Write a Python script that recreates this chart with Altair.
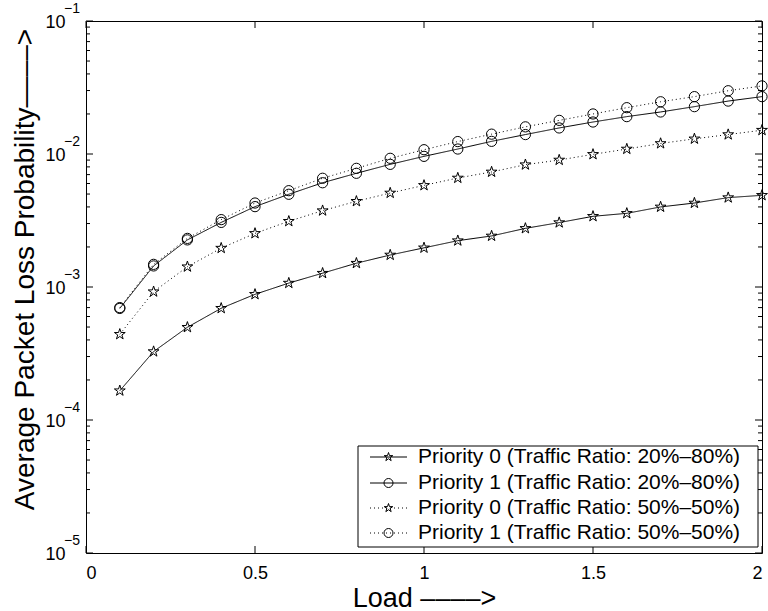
import math
import altair as alt
import pandas as pd

FONT = "Liberation Sans"

load = [0.1, 0.2, 0.3, 0.4, 0.5, 0.6, 0.7, 0.8, 0.9, 1.0,
        1.1, 1.2, 1.3, 1.4, 1.5, 1.6, 1.7, 1.8, 1.9, 2.0]

series_names = [
    "Priority 0 (Traffic Ratio: 20%\u201380%)",
    "Priority 1 (Traffic Ratio: 20%\u201380%)",
    "Priority 0 (Traffic Ratio: 50%\u201350%)",
    "Priority 1 (Traffic Ratio: 50%\u201350%)",
]

p0_2080 = [1.66e-4, 3.27e-4, 4.98e-4, 6.92e-4, 8.81e-4, 1.07e-3, 1.27e-3, 1.51e-3, 1.74e-3, 1.97e-3,
           2.23e-3, 2.42e-3, 2.76e-3, 3.05e-3, 3.40e-3, 3.58e-3, 4.00e-3, 4.28e-3, 4.70e-3, 4.89e-3]
p1_2080 = [6.9e-4, 1.44e-3, 2.26e-3, 3.06e-3, 4.02e-3, 4.98e-3, 6.08e-3, 7.16e-3, 8.36e-3, 9.6e-3,
           1.09e-2, 1.245e-2, 1.40e-2, 1.57e-2, 1.74e-2, 1.91e-2, 2.07e-2, 2.27e-2, 2.50e-2, 2.70e-2]
p0_5050 = [4.41e-4, 9.22e-4, 1.42e-3, 1.96e-3, 2.53e-3, 3.12e-3, 3.75e-3, 4.41e-3, 5.09e-3, 5.81e-3,
           6.6e-3, 7.33e-3, 8.31e-3, 9.01e-3, 9.94e-3, 1.09e-2, 1.20e-2, 1.30e-2, 1.40e-2, 1.51e-2]
p1_5050 = [7.0e-4, 1.48e-3, 2.32e-3, 3.21e-3, 4.28e-3, 5.3e-3, 6.57e-3, 7.8e-3, 9.28e-3, 1.077e-2,
           1.24e-2, 1.41e-2, 1.60e-2, 1.79e-2, 2.0e-2, 2.23e-2, 2.47e-2, 2.70e-2, 2.99e-2, 3.25e-2]

x_ticks = [0, 0.5, 1, 1.5, 2]
y_major = [1e-5, 1e-4, 1e-3, 1e-2, 1e-1]
y_exp_labels = ["\u22125", "\u22124", "\u22123", "\u22122", "\u22121"]
y_minor = [m * d for d in [1e-5, 1e-4, 1e-3, 1e-2] for m in range(2, 10)]

rows = []
for name, vals in zip(series_names, [p0_2080, p1_2080, p0_5050, p1_5050]):
    for xv, v in zip(load, vals):
        rows.append({"load": xv, "prob": v, "series": name})
df = pd.DataFrame(rows)

W, H = 676, 532
xscale = alt.Scale(domain=[0, 2], nice=False, zero=False)
yscale = alt.Scale(type="log", domain=[1e-5, 1e-1], nice=False)


def star_path(r):
    pts = []
    for i in range(10):
        a = math.radians(-90 + 36 * i)
        rr = r if i % 2 == 0 else r * 0.382
        pts.append(f"{rr * math.cos(a):.4f},{rr * math.sin(a):.4f}")
    return "M" + "L".join(pts) + "Z"


STAR = star_path(1.0)

x_axis = alt.Axis(
    values=x_ticks, format="~g", domain=False, ticks=False, grid=False,
    labelFontSize=18, labelFont=FONT, labelColor="black", labelPadding=11,
    title="Load \u2013\u2013\u2013\u2013>", titleFontSize=27, titleFont=FONT,
    titleFontWeight="normal", titleColor="black", titleX=338, titleY=53,
    titleBaseline="alphabetic",
)
y_axis = alt.Axis(
    values=y_major, labelExpr="'10'", domain=False, ticks=False, grid=False,
    labelFontSize=18, labelFont=FONT, labelColor="black", labelPadding=21, labelOffset=1.5,
    title="Average Packet Loss Probability\u2013\u2013\u2013\u2013>", titleFontSize=28,
    titleFont=FONT, titleFontWeight="normal", titleColor="black",
    titleAngle=270, titleX=-53, titleY=248, titleBaseline="alphabetic",
)

X = lambda f: alt.X(f, scale=xscale, axis=x_axis)
Y = lambda f: alt.Y(f, scale=yscale, axis=y_axis)

lines = alt.Chart(df).mark_line(strokeWidth=1, color="black").encode(
    x=X("load:Q"), y=Y("prob:Q"),
    detail="series:N",
    strokeDash=alt.StrokeDash("series:N", sort=series_names,
                              scale=alt.Scale(domain=series_names,
                                              range=[[1, 0], [1, 0], [1, 3], [1, 3]]),
                              legend=None),
)

stars = alt.Chart(df).transform_filter(
    alt.FieldOneOfPredicate(field="series", oneOf=[series_names[0], series_names[2]])
).mark_point(shape=STAR, size=130, filled=False, color="black",
             strokeWidth=1, opacity=1).encode(x=X("load:Q"), y=Y("prob:Q"))

circles = alt.Chart(df).transform_filter(
    alt.FieldOneOfPredicate(field="series", oneOf=[series_names[1], series_names[3]])
).mark_point(shape="circle", size=105, filled=False, color="black",
             strokeWidth=1, opacity=1).encode(x=X("load:Q"), y=Y("prob:Q"))

xt = pd.DataFrame({"t": x_ticks})
ymaj = pd.DataFrame({"v": y_major, "e": y_exp_labels})
ymin = pd.DataFrame({"v": y_minor})

tick_style = dict(color="black", strokeWidth=1)
x_bottom = alt.Chart(xt).mark_rule(**tick_style).encode(
    x=X("t:Q"), y=alt.value(H), y2=alt.value(H - 7))
x_top = alt.Chart(xt).mark_rule(**tick_style).encode(
    x=X("t:Q"), y=alt.value(0), y2=alt.value(7))
y_left_maj = alt.Chart(ymaj).mark_rule(**tick_style).encode(
    y=Y("v:Q"), x=alt.value(0), x2=alt.value(7))
y_right_maj = alt.Chart(ymaj).mark_rule(**tick_style).encode(
    y=Y("v:Q"), x=alt.value(W), x2=alt.value(W - 7))
y_left_min = alt.Chart(ymin).mark_rule(**tick_style).encode(
    y=Y("v:Q"), x=alt.value(0), x2=alt.value(4))
y_right_min = alt.Chart(ymin).mark_rule(**tick_style).encode(
    y=Y("v:Q"), x=alt.value(W), x2=alt.value(W - 4))

exps = alt.Chart(ymaj).mark_text(align="right", baseline="alphabetic", dy=-8,
                                 fontSize=14, font=FONT, color="black").encode(
    y=Y("v:Q"), x=alt.value(-6), text="e:N")

# ---- legend box (drawn as guide-like marks in pixel space) ----
LEG_BOX = (272, 672, 425, 526)          # x0, x1, y0, y1 in plot pixels
LEG_ROW_Y = [436, 462, 487, 512]
LEG_LINE_X = (284, 321)
LEG_MARK_X = 302.5
LEG_TEXT_X = 332
leg_dash = [[1, 0], [1, 0], [1, 3], [1, 3]]
leg_shape = [STAR, "circle", STAR, "circle"]

legend_layers = [
    alt.Chart(pd.DataFrame({"k": [0]})).mark_rect(
        fill="white", stroke="black", strokeWidth=1).encode(
        x=alt.value(LEG_BOX[0]), x2=alt.value(LEG_BOX[1]),
        y=alt.value(LEG_BOX[2]), y2=alt.value(LEG_BOX[3]))
]
for i, name in enumerate(series_names):
    one = pd.DataFrame({"name": [name]})
    legend_layers.append(
        alt.Chart(one).mark_rule(color="black", strokeWidth=1,
                                 strokeDash=leg_dash[i]).encode(
            x=alt.value(LEG_LINE_X[0]), x2=alt.value(LEG_LINE_X[1]),
            y=alt.value(LEG_ROW_Y[i]))
    )
    legend_layers.append(
        alt.Chart(one).mark_point(shape=leg_shape[i], size=81, filled=False,
                                  color="black", strokeWidth=1, opacity=1).encode(
            x=alt.value(LEG_MARK_X), y=alt.value(LEG_ROW_Y[i]))
    )
    legend_layers.append(
        alt.Chart(one).mark_text(align="left", baseline="middle", fontSize=21,
                                 font=FONT, color="black").encode(
            x=alt.value(LEG_TEXT_X), y=alt.value(LEG_ROW_Y[i]), text="name:N")
    )

chart = alt.layer(
    lines, stars, circles, x_bottom, x_top, y_left_maj, y_right_maj,
    y_left_min, y_right_min, exps, *legend_layers
).properties(
    width=W, height=H,
    padding={"left": 86, "top": 21, "right": 6, "bottom": 58},
    autosize=alt.AutoSizeParams(type="none"),
    background="white",
).configure_view(stroke="black", strokeWidth=1)

chart.save("out.html", embed_options={"renderer": "svg", "actions": False})
